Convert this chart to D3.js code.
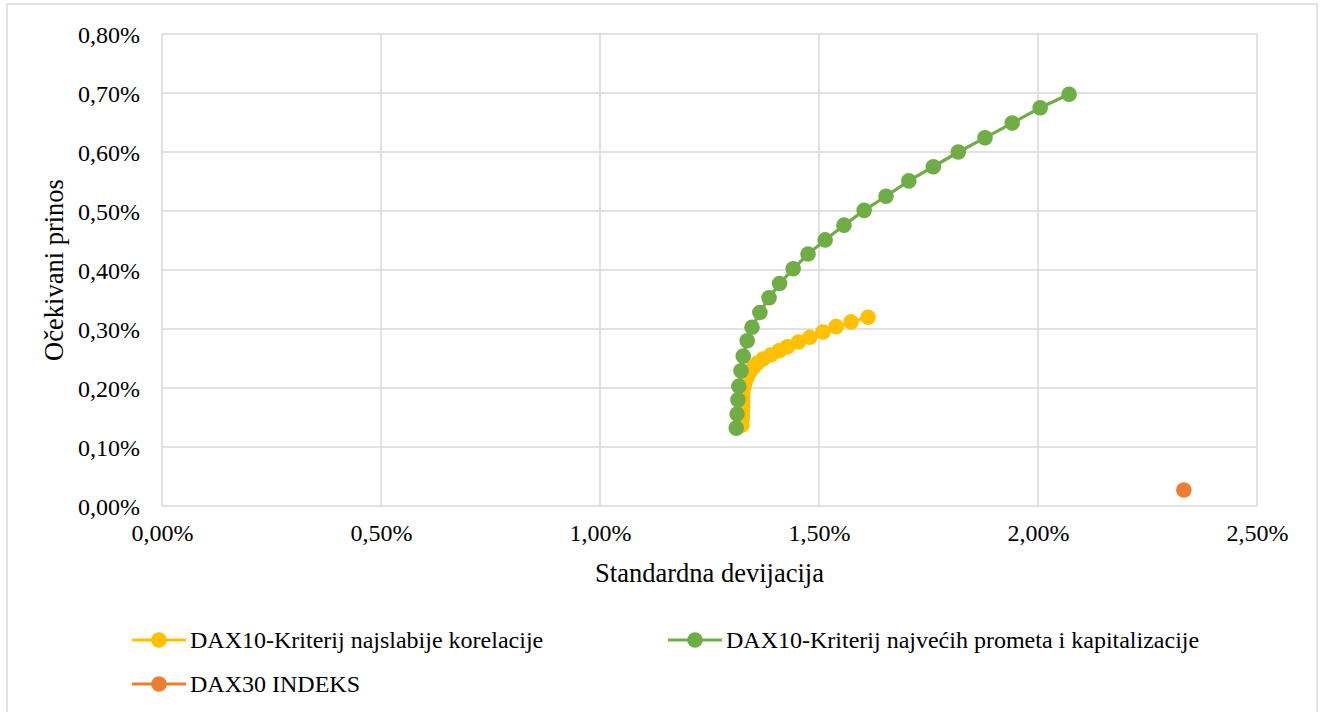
<!DOCTYPE html>
<html>
<head>
<meta charset="utf-8">
<script src="https://cdn.jsdelivr.net/npm/d3@7"></script>
<style>
  body { margin: 0; background: white; }
  text { font-family: "Liberation Serif", "Times New Roman", serif; fill: #000; }
</style>
</head>
<body>
<div id="chart"></div>
<script>
// standard deviation (%) and expected return (%) per portfolio
const yellowSd  = [1.324, 1.324, 1.325, 1.325, 1.326, 1.326, 1.326, 1.326, 1.328, 1.331, 1.335, 1.341,
                   1.349, 1.359, 1.372, 1.390, 1.409, 1.428, 1.453, 1.479, 1.509, 1.539, 1.573, 1.612];
const yellowRet = [0.137, 0.145, 0.153, 0.161, 0.169, 0.177, 0.185, 0.193, 0.201, 0.209, 0.217, 0.226,
                   0.234, 0.242, 0.249, 0.256, 0.263, 0.270, 0.278, 0.286, 0.295, 0.304, 0.312, 0.320];
const greenSd   = [1.311, 1.313, 1.315, 1.317, 1.322, 1.327, 1.336, 1.347, 1.365, 1.386, 1.410, 1.441,
                   1.475, 1.514, 1.557, 1.603, 1.653, 1.705, 1.761, 1.818, 1.879, 1.941, 2.005, 2.071];
const greenRet  = [0.132, 0.156, 0.180, 0.203, 0.229, 0.254, 0.280, 0.303, 0.328, 0.353, 0.377, 0.402,
                   0.427, 0.451, 0.476, 0.501, 0.525, 0.551, 0.575, 0.600, 0.624, 0.649, 0.675, 0.698];
const indexSd   = [2.333];
const indexRet  = [0.027];

const xTicks = [0, 0.5, 1.0, 1.5, 2.0, 2.5];
const yTicks = [0, 0.1, 0.2, 0.3, 0.4, 0.5, 0.6, 0.7, 0.8];

const seriesNames = ["DAX10-Kriterij najslabije korelacije",
                     "DAX10-Kriterij najvećih prometa i kapitalizacije",
                     "DAX30 INDEKS"];
const colors = ["#FFC000", "#70AD47", "#ED7D31"];

const width = 1325, height = 712;
const plot = {left: 162, right: 1257, top: 34, bottom: 506};
const markerR = 7.8;

const fmt = v => v.toFixed(2).replace(".", ",") + "%";

const svg = d3.select("#chart").append("svg")
    .attr("width", width)
    .attr("height", height);

// outer chart frame
svg.append("rect")
    .attr("x", 7).attr("y", 4)
    .attr("width", 1310).attr("height", 712)
    .attr("fill", "white")
    .attr("stroke", "#D9D9D9")
    .attr("stroke-width", 1.5);

const x = d3.scaleLinear().domain([0, 2.5]).range([plot.left, plot.right]);
const y = d3.scaleLinear().domain([0, 0.8]).range([plot.bottom, plot.top]);

// gridlines
const grid = svg.append("g").attr("id", "grid");
grid.selectAll(".vgrid").data(xTicks).enter().append("line")
    .attr("class", "vgrid")
    .attr("x1", d => x(d)).attr("x2", d => x(d))
    .attr("y1", plot.top).attr("y2", plot.bottom)
    .style("stroke", "#D9D9D9").style("stroke-width", 1.5);
grid.selectAll(".hgrid").data(yTicks).enter().append("line")
    .attr("class", "hgrid")
    .attr("y1", d => y(d)).attr("y2", d => y(d))
    .attr("x1", plot.left).attr("x2", plot.right)
    .style("stroke", "#D9D9D9").style("stroke-width", 1.5);

// tick labels via axes
const xAxis = svg.append("g")
    .attr("transform", "translate(0," + plot.bottom + ")")
    .call(d3.axisBottom(x).tickValues(xTicks).tickFormat(fmt).tickSize(0).tickPadding(35));
const yAxis = svg.append("g")
    .attr("transform", "translate(" + plot.left + ",0)")
    .call(d3.axisLeft(y).tickValues(yTicks).tickFormat(fmt).tickSize(0).tickPadding(22));
[xAxis, yAxis].forEach(a => {
    a.attr("font-family", null);
    a.select(".domain").remove();
    a.selectAll("text")
        .style("font-family", "'Liberation Serif', 'Times New Roman', serif")
        .style("font-size", "24px")
        .attr("fill", "#000");
});
xAxis.selectAll("text").attr("dy", null);
yAxis.selectAll("text").attr("dy", "0.34em");

// axis titles
svg.append("text")
    .attr("x", (plot.left + plot.right) / 2)
    .attr("y", 582)
    .attr("text-anchor", "middle")
    .style("font-size", "26.5px")
    .text("Standardna devijacija");
svg.append("text")
    .attr("transform", "translate(63," + ((plot.top + plot.bottom) / 2) + ") rotate(-90)")
    .attr("text-anchor", "middle")
    .style("font-size", "26.5px")
    .text("Očekivani prinos");

// series
const series = [
    d3.zip(yellowSd, yellowRet),
    d3.zip(greenSd, greenRet),
    d3.zip(indexSd, indexRet)
];
const line = d3.line().x(d => x(d[0])).y(d => y(d[1]));

series.forEach((pts, i) => {
    const g = svg.append("g").attr("class", "series-" + i);
    if (pts.length > 1) {
        g.append("path")
            .datum(pts)
            .attr("d", line)
            .attr("fill", "none")
            .attr("stroke", colors[i])
            .attr("stroke-width", 3.2);
    }
    g.selectAll("circle").data(pts).enter().append("circle")
        .attr("cx", d => x(d[0]))
        .attr("cy", d => y(d[1]))
        .attr("r", markerR)
        .attr("fill", colors[i]);
});

// legend
const legendPos = [[132, 640], [668, 640], [132, 684]];
seriesNames.forEach((name, i) => {
    const [lx, ly] = legendPos[i];
    const g = svg.append("g").attr("transform", "translate(" + lx + "," + ly + ")");
    g.append("line")
        .attr("x1", 0).attr("x2", 54)
        .attr("y1", 0).attr("y2", 0)
        .attr("stroke", colors[i])
        .attr("stroke-width", 3.2);
    g.append("circle")
        .attr("cx", 27).attr("cy", 0)
        .attr("r", markerR)
        .attr("fill", colors[i]);
    g.append("text")
        .attr("x", 58).attr("y", 0)
        .attr("dy", "0.34em")
        .style("font-size", "24px")
        .text(name);
});
</script>
</body>
</html>
